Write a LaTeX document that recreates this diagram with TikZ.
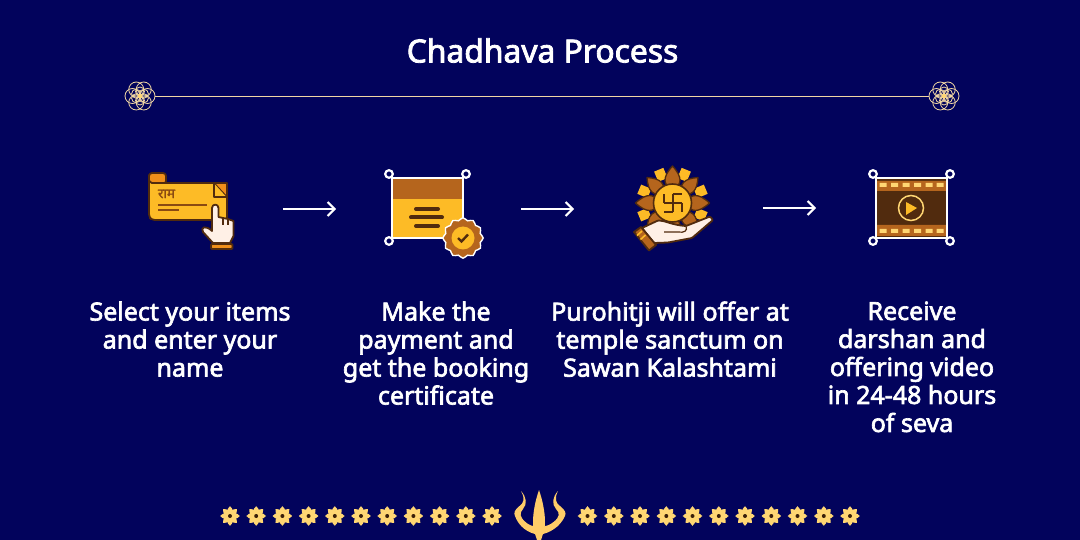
\documentclass[tikz,border=0pt]{standalone}
\usepackage{fontspec}
\setmainfont[BoldFont={Noto Sans},BoldFeatures={FakeBold=2.6}]{Noto Sans}
\newfontfamily\devfont[Script=Devanagari,FakeBold=1.5]{Noto Sans}
\usetikzlibrary{arrows.meta}
\definecolor{bgc}{HTML}{02035C}
\definecolor{gold}{HTML}{FDBB26}
\definecolor{brn}{HTML}{8A4A12}
\definecolor{midb}{HTML}{B5651D}
\definecolor{darkb}{HTML}{512B0E}
\definecolor{orng}{HTML}{F08F1A}
\definecolor{pale}{HTML}{FFD673}
\definecolor{cream}{HTML}{FFF0E6}
\definecolor{tan}{HTML}{F0D6A4}
\tikzset{
  steptext/.style={text=white,align=center,anchor=north,font=\fontsize{25}{28}\selectfont\bfseries},
  flow/.style={draw=white,line width=2pt,-{Straight Barb[length=7pt,width=14pt,line width=2pt]}},
  ring/.style={draw=white,line width=2.2pt,fill=bgc},
  petal/.style={fill=midb,draw=darkb,line width=1.3pt,line join=round},
  outl/.style={draw=darkb,line width=1.8pt,line join=round},
}
\newcommand{\rosette}[2]{%
  \begin{scope}[shift={(#1,#2)},draw=tan,line width=.8pt]
    \foreach \a in {0,60,...,300}{\draw (\a:7.5) circle (7.5);}
    \foreach \a in {30,90,...,330}{\draw (\a:4.5) circle (4.5);}
    \fill[pale] (0,0) circle (2.2);
  \end{scope}}
\newcommand{\blossom}[2]{%
  \begin{scope}[shift={(#1,#2)}]
    \foreach \a in {0,45,...,315}{\fill[pale,rotate=\a] (0,0) .. controls (4.4,3) and (3.6,6.5) .. (0,9.8) .. controls (-3.6,6.5) and (-4.4,3) .. (0,0);}
    \fill[darkb!70!black] (0,0) circle (2);
  \end{scope}}
\begin{document}
\begin{tikzpicture}[x=1pt,y=-1pt]
\useasboundingbox (0,0) rectangle (1080,540);
\fill[bgc] (0,0) rectangle (1080,540);
% title
\node[text=white,font=\fontsize{31.8}{36}\selectfont\bfseries] (title) at (542.5,50.5) {Chadhava Process};
% rule
\coordinate (ruleL) at (155,96.5);
\coordinate (ruleR) at (929,96.5);
\draw[tan,line width=1pt] (ruleL) -- (ruleR);
\rosette{140}{96}
\rosette{944}{96}
% icon 1
\draw[outl,fill=orng,rounded corners=3pt] (149,183) -- (149,173) -- (166,173) -- (166,184) -- cycle;
\draw[outl,fill=gold,rounded corners=3pt] (149,178) -- (149,217) -- (152,220) -- (227,220) -- (227,183) -- (155,183) .. controls (151,183) and (149,181) .. (149,178) -- cycle;
\draw[outl,fill=orng] (214,183) -- (227,183) -- (227,197) -- (214,197) -- cycle;
\draw[darkb,line width=1.4pt] (214,183) -- (227,197);
\fill[gold] (215,184.5) -- (215,196) -- (225.5,196) -- cycle;
\node[text=brn,font=\fontsize{13.5}{14}\selectfont\devfont] (ram) at (166.5,194) {राम};
\draw[brn,line width=2pt] (158,205) -- (207,205) (158,210) -- (179,210);
\draw[outl,fill=cream] (212,208) .. controls (212,203.5) and (218.5,203.5) .. (218.5,208) -- (218.5,217) -- (223,218) -- (228,219) -- (233.5,221) -- (233.5,236) -- (230,243) -- (213,243) -- (203,232) .. controls (200,227) and (206,225) .. (212,231) -- cycle;
\draw[darkb,line width=1.1pt] (223,218) -- (223,225) (228,219) -- (228,225);
\draw[outl,fill=orng,rounded corners=1pt] (211,244) rectangle (232.5,249);
\coordinate (icon1) at (237,208);
% icon 2
\fill[gold] (392,178) rectangle (463,238);
\fill[midb] (392,178) rectangle (463,199);
\draw[white,line width=2pt] (392,178) rectangle (463,238);
\foreach \p in {(389,174),(466,174),(389,241)}{\draw[ring] \p circle (3.8);}
\draw[darkb,line width=4pt,line cap=round] (416,209) -- (438,209) (411,217.5) -- (442,217.5) (416,226) -- (438,226);
\begin{scope}[shift={(463,238)}]
  \draw[white,line width=1.4pt,fill=midb] plot[smooth cycle,samples=48,domain=0:352.5] (\x:{19+1.2*cos(12*\x)});
  \fill[gold] (0,0) circle (11.5);
  \draw[darkb,line width=2.4pt] (-5,0) -- (-1.5,3.5) -- (5,-3.5);
\end{scope}
% icon 3
\begin{scope}[shift={(672.5,203)}]
  \foreach \a in {22.5,67.5,...,337.5}{\fill[gold,rotate=\a] (-5,-25) rectangle (5,-36);}
  \foreach \a in {45,135,225,315}{\draw[petal,rotate=\a] (0,-14) .. controls (9,-18) and (9,-26) .. (0,-36) .. controls (-9,-26) and (-9,-18) .. (0,-14);}
  \foreach \a in {0,90,180,270}{\draw[petal,rotate=\a] (0,-14) .. controls (10,-18) and (10,-26) .. (0,-37) .. controls (-10,-26) and (-10,-18) .. (0,-14);}
  \draw[darkb,line width=1.6pt,fill=gold] (0,0) circle (19);
  \draw[darkb,line width=2pt] (0,-9) -- (0,9) (-9,0) -- (9,0) (0,-9) -- (9,-9) (9,0) -- (9,9) (0,9) -- (-9,9) (-9,0) -- (-9,-9);
\end{scope}
\draw[outl,fill=cream,rounded corners=1pt] (642,228) -- (658,220.5) .. controls (665,220.5) and (672,225) .. (686,226) -- (710,216.5) -- (713,220) -- (692,238) -- (668,242.5) -- (654,243) -- cycle;
\draw[darkb,line width=1.2pt] (686,226) .. controls (688,231) and (684,233) .. (678,232) -- (664,232);
\draw[outl,fill=midb] (634,232) -- (641,227) -- (656,245) -- (649,250.5) -- cycle;
\draw[gold,line width=1.6pt] (642,231) -- (637,235.5) (645.5,235) -- (640.5,239.5);
\coordinate (icon3) at (713,208);
% icon 4
\fill[darkb] (876,178) rectangle (947,238);
\fill[midb] (876,181) rectangle (947,191) (876,225) rectangle (947,236);
\foreach \x in {883,894.5,906,917.5,929,940}{\fill[pale] (\x-3.5,183) rectangle (\x+3.5,187) (\x-3.5,229) rectangle (\x+3.5,233);}
\draw[white,line width=2pt] (876,178) rectangle (947,238);
\foreach \p in {(873,174),(950,174),(873,241),(950,241)}{\draw[ring] \p circle (3.8);}
\draw[pale,line width=1.5pt] (911,208) circle (12.5);
\fill[gold] (906,202) -- (917,208) -- (906,215) -- cycle;
% connectors
\coordinate (a1s) at (283,209); \coordinate (a1e) at (336,209);
\coordinate (a2s) at (521,209); \coordinate (a2e) at (574,209);
\coordinate (a3s) at (763,208); \coordinate (a3e) at (816,208);
\draw[flow] (a1s) -- (a1e);
\draw[flow] (a2s) -- (a2e);
\draw[flow] (a3s) -- (a3e);
% texts
\node[steptext] (t1) at (190,298) {Select your items\\and enter your\\name};
\node[steptext] (t2) at (436,298) {Make the\\payment and\\get the booking\\certificate};
\node[steptext] (t3) at (670,298) {Purohitji will offer at\\temple sanctum on\\Sawan Kalashtami};
\node[steptext] (t4) at (912,298) {Receive\\darshan and\\offering video\\in 24-48 hours\\of seva};
% footer flowers
\foreach \x in {230,256.2,282.4,308.6,334.8,361,387.2,413.4,439.6,465.8,492}{\blossom{\x}{516}}
\foreach \x in {587.5,613.8,640,666.3,692.5,718.8,745,771.3,797.5,823.8,850}{\blossom{\x}{516}}
% trident
\fill[pale!90!orange] (539,490) .. controls (542.5,500) and (545,512) .. (545,522) .. controls (545,530) and (542.5,535) .. (541,540) -- (537,540) .. controls (535.5,535) and (533,530) .. (533,522) .. controls (533,512) and (535.5,500) .. (539,490) -- cycle;
\fill[pale!90!orange] (521,491) .. controls (526.5,497) and (527.5,504) .. (523,509) .. controls (519.5,513) and (519.5,517) .. (525.5,522) .. controls (528.5,525) and (532.5,526.5) .. (539,527) .. controls (546,526.5) and (550,525) .. (553.5,522) .. controls (560,517) and (560,513) .. (556,509) .. controls (551.5,504) and (552.5,497) .. (558,491) .. controls (554,499) and (556,503) .. (560,506) .. controls (565,510) and (566.5,513) .. (565,516) .. controls (560,527) and (550,533) .. (539,535) .. controls (528,533) and (519,527) .. (515,516) .. controls (513.5,513) and (514.5,510) .. (519.5,506) .. controls (523.5,503) and (525.5,499) .. (521,491) -- cycle;
\end{tikzpicture}
\end{document}
